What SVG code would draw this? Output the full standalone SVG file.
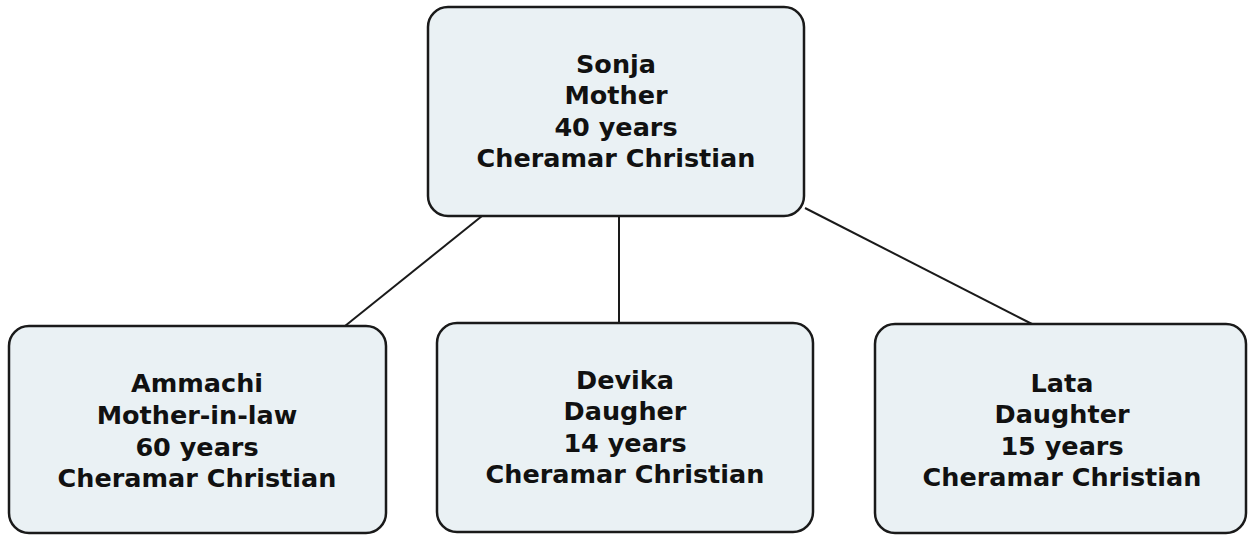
<svg xmlns="http://www.w3.org/2000/svg" width="1248" height="535" viewBox="0 0 1248 535">
<style>
.box{fill:#eaf1f4;stroke:#1a1a1a;stroke-width:2.5}
.t{font-family:"DejaVu Sans",Verdana,sans-serif;font-weight:bold;font-size:25.5px;fill:#111;text-anchor:middle}
.c{stroke:#1a1a1a;stroke-width:2;fill:none}
</style>
<rect width="1248" height="535" fill="#fff"/>
<g id="connectors">
<line class="c" x1="482" y1="216" x2="345" y2="326"/>
<line class="c" x1="619" y1="216" x2="619" y2="323"/>
<line class="c" x1="805" y1="208" x2="1032" y2="324"/>
</g>
<g id="sonja">
<rect class="box" x="428" y="7" width="376" height="209" rx="20"/>
<text class="t" x="616" y="73">Sonja</text>
<text class="t" x="616" y="104">Mother</text>
<text class="t" x="616" y="136">40 years</text>
<text class="t" x="616" y="167">Cheramar Christian</text>
</g>
<g id="ammachi">
<rect class="box" x="9" y="326" width="377" height="207" rx="20"/>
<text class="t" x="197" y="392">Ammachi</text>
<text class="t" x="197" y="424">Mother-in-law</text>
<text class="t" x="197" y="456">60 years</text>
<text class="t" x="197" y="487">Cheramar Christian</text>
</g>
<g id="devika">
<rect class="box" x="437" y="323" width="376" height="209" rx="20"/>
<text class="t" x="625" y="389">Devika</text>
<text class="t" x="625" y="420">Daugher</text>
<text class="t" x="625" y="452">14 years</text>
<text class="t" x="625" y="483">Cheramar Christian</text>
</g>
<g id="lata">
<rect class="box" x="875" y="324" width="371" height="209" rx="20"/>
<text class="t" x="1062" y="392">Lata</text>
<text class="t" x="1062" y="423">Daughter</text>
<text class="t" x="1062" y="455">15 years</text>
<text class="t" x="1062" y="486">Cheramar Christian</text>
</g>
</svg>
